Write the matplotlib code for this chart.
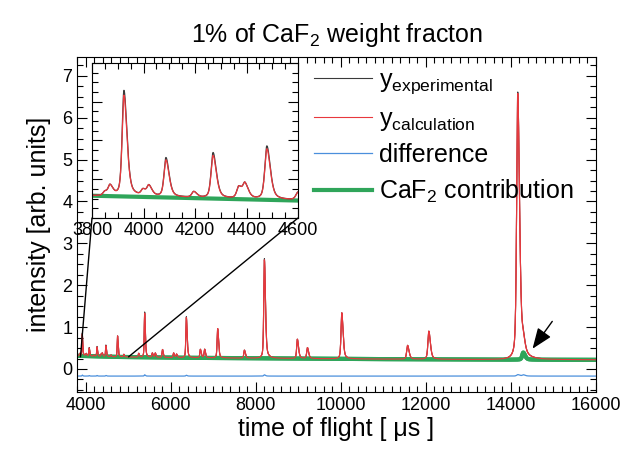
import numpy as np
import matplotlib
matplotlib.use("Agg")
import matplotlib.pyplot as plt
from matplotlib.ticker import MultipleLocator
from matplotlib.patches import ConnectionPatch

plt.rcParams['font.family'] = ['Liberation Sans', 'DejaVu Sans']
plt.rcParams['mathtext.fontset'] = 'custom'
plt.rcParams['mathtext.rm'] = 'Liberation Sans'
plt.rcParams['mathtext.it'] = 'Liberation Sans:italic'
plt.rcParams['mathtext.default'] = 'regular'

# ---- data ----
# Bragg peaks: position (µs), height above background (arb. units)
peak_pos = [3850, 3870, 3924, 3998, 4021, 4087, 4195, 4270, 4370, 4394, 4479, 4600,
            4753, 4900, 5250, 5390, 5570, 5640, 5810, 6070, 6140, 6370, 6700, 6800,
            7106, 7735, 8205, 8980, 9216, 10024, 11570, 12070, 14160, 14290]
peak_height = [0.02, 0.05, 0.52, 0.03, 0.05, 0.19, 0.03, 0.22, 0.06, 0.07, 0.26, 0.04,
               0.50, 0.06, 0.09, 1.05, 0.10, 0.10, 0.19, 0.11, 0.08, 0.96, 0.20, 0.20,
               0.70, 0.19, 2.35, 0.46, 0.26, 1.10, 0.33, 0.67, 6.35, 0.27]
# small misfit (experimental minus calculated) at a few peaks
resid_pos = [3924, 4087, 4270, 4479, 5390, 6370, 8205, 14160, 14290]
resid_amp = [0.025, 0.012, 0.015, 0.015, 0.03, 0.02, 0.03, 0.035, 0.03]
# background level
bg_t = [3800, 4600, 6000, 8000, 10000, 12000, 14000, 16000]
bg_v = [0.315, 0.29, 0.27, 0.255, 0.24, 0.23, 0.222, 0.218]
# CaF2 peak
caf2_pos = [14290]
caf2_height = [0.17]
diff_offset = -0.17

# ---- build profiles ----
t = np.linspace(3800, 16000, 40000)

def profile(x, pos, h):
    fw = 0.0042 * pos
    w = np.where(x < pos, fw / 2, fw * 0.85)
    lor = 1 / (1 + ((x - pos) / w) ** 2)
    gau = np.exp(-np.log(2) * ((x - pos) / w) ** 2)
    return h * (0.5 * gau + 0.5 * lor)

bg = np.interp(t, bg_t, bg_v)
caf2 = bg.copy()
for p, h in zip(caf2_pos, caf2_height):
    caf2 += profile(t, p, h)
calc = bg.copy()
for p, h in zip(peak_pos, peak_height):
    calc += profile(t, p, h)
resid = np.zeros_like(t)
for p, a in zip(resid_pos, resid_amp):
    resid += profile(t, p, a)
expt = calc + resid
diff = expt - calc + diff_offset

c_black = '#3a3a3a'
c_red = '#e8383d'
c_blue = '#4a8fdc'
c_green = '#2fa55a'

fig = plt.figure(figsize=(6.21, 4.58), dpi=100)
W, H = 621, 458
ax = fig.add_axes([77 / W, 1 - 392 / H, (596 - 77) / W, (392 - 57) / H])

l1, = ax.plot(t, expt, color=c_black, lw=0.8, label=r'y$_{experimental}$')
l2, = ax.plot(t, calc, color=c_red, lw=0.8, label=r'y$_{calculation}$')
l3, = ax.plot(t, diff, color=c_blue, lw=0.9, label='difference')
l4, = ax.plot(t, caf2, color=c_green, lw=3, label=r'CaF$_2$ contribution')
ax.plot(t, calc, color=c_red, lw=0.8)
ax.plot(t, caf2, color=c_green, lw=3, zorder=1.9)

ax.set_xlim(3800, 16000)
ax.set_ylim(-0.55, 7.45)
ax.xaxis.set_major_locator(MultipleLocator(2000))
ax.xaxis.set_minor_locator(MultipleLocator(200))
ax.yaxis.set_major_locator(MultipleLocator(1))
ax.yaxis.set_minor_locator(MultipleLocator(0.25))
ax.tick_params(which='both', direction='in', top=True, right=True, labelsize=13)
ax.tick_params(which='major', length=7, width=0.8)
ax.tick_params(which='minor', length=4, width=0.8)
ax.set_xlabel('time of flight [ μs ]', fontsize=18, labelpad=2)
ax.set_ylabel('intensity [arb. units]', fontsize=18, labelpad=8)
ax.set_title(r'1% of CaF$_2$ weight fracton', fontsize=18, pad=11)

ax.annotate('', xy=(14470, 0.43), xytext=(15010, 1.19),
            arrowprops=dict(arrowstyle='-|>,head_length=0.9,head_width=0.35',
                            color='k', lw=1, mutation_scale=14))

leg = ax.legend(handles=[l1, l2, l3, l4], loc='upper left',
                bbox_to_anchor=(314 / W, 1 - 68 / H), bbox_transform=fig.transFigure,
                frameon=False, fontsize=18, handlelength=2.3, handletextpad=0.3,
                labelspacing=0.42, borderpad=0, borderaxespad=0)

# ---- inset ----
axins = fig.add_axes([92 / W, 1 - 218 / H, (298 - 92) / W, (218 - 63) / H])
axins.set_facecolor('white')
m = (t >= 3790) & (t <= 4610)
axins.plot(t[m], caf2[m], color=c_green, lw=3)
axins.plot(t[m], expt[m], color=c_black, lw=0.9)
axins.plot(t[m], calc[m], color=c_red, lw=0.9)
axins.set_xlim(3800, 4600)
axins.set_ylim(0.2, 1.0)
axins.xaxis.set_major_locator(MultipleLocator(200))
axins.xaxis.set_minor_locator(MultipleLocator(50))
axins.yaxis.set_major_locator(MultipleLocator(0.2))
axins.yaxis.set_minor_locator(MultipleLocator(0.05))
axins.tick_params(which='both', direction='in', top=True, right=True, labelsize=13,
                  labelleft=False)
axins.tick_params(which='major', length=7, width=0.8)
axins.tick_params(which='minor', length=4, width=0.8)
axins.tick_params(axis='x', pad=3)

for xa, ya, xb, yb in [(3800, 0.2, 3882, 0.29), (4600, 0.2, 5012, 0.29)]:
    con = ConnectionPatch(xyA=(xa, ya), coordsA=axins.transData,
                          xyB=(xb, yb), coordsB=ax.transData, color='k', lw=1)
    fig.add_artist(con)

fig.savefig('out.png', dpi=100)
